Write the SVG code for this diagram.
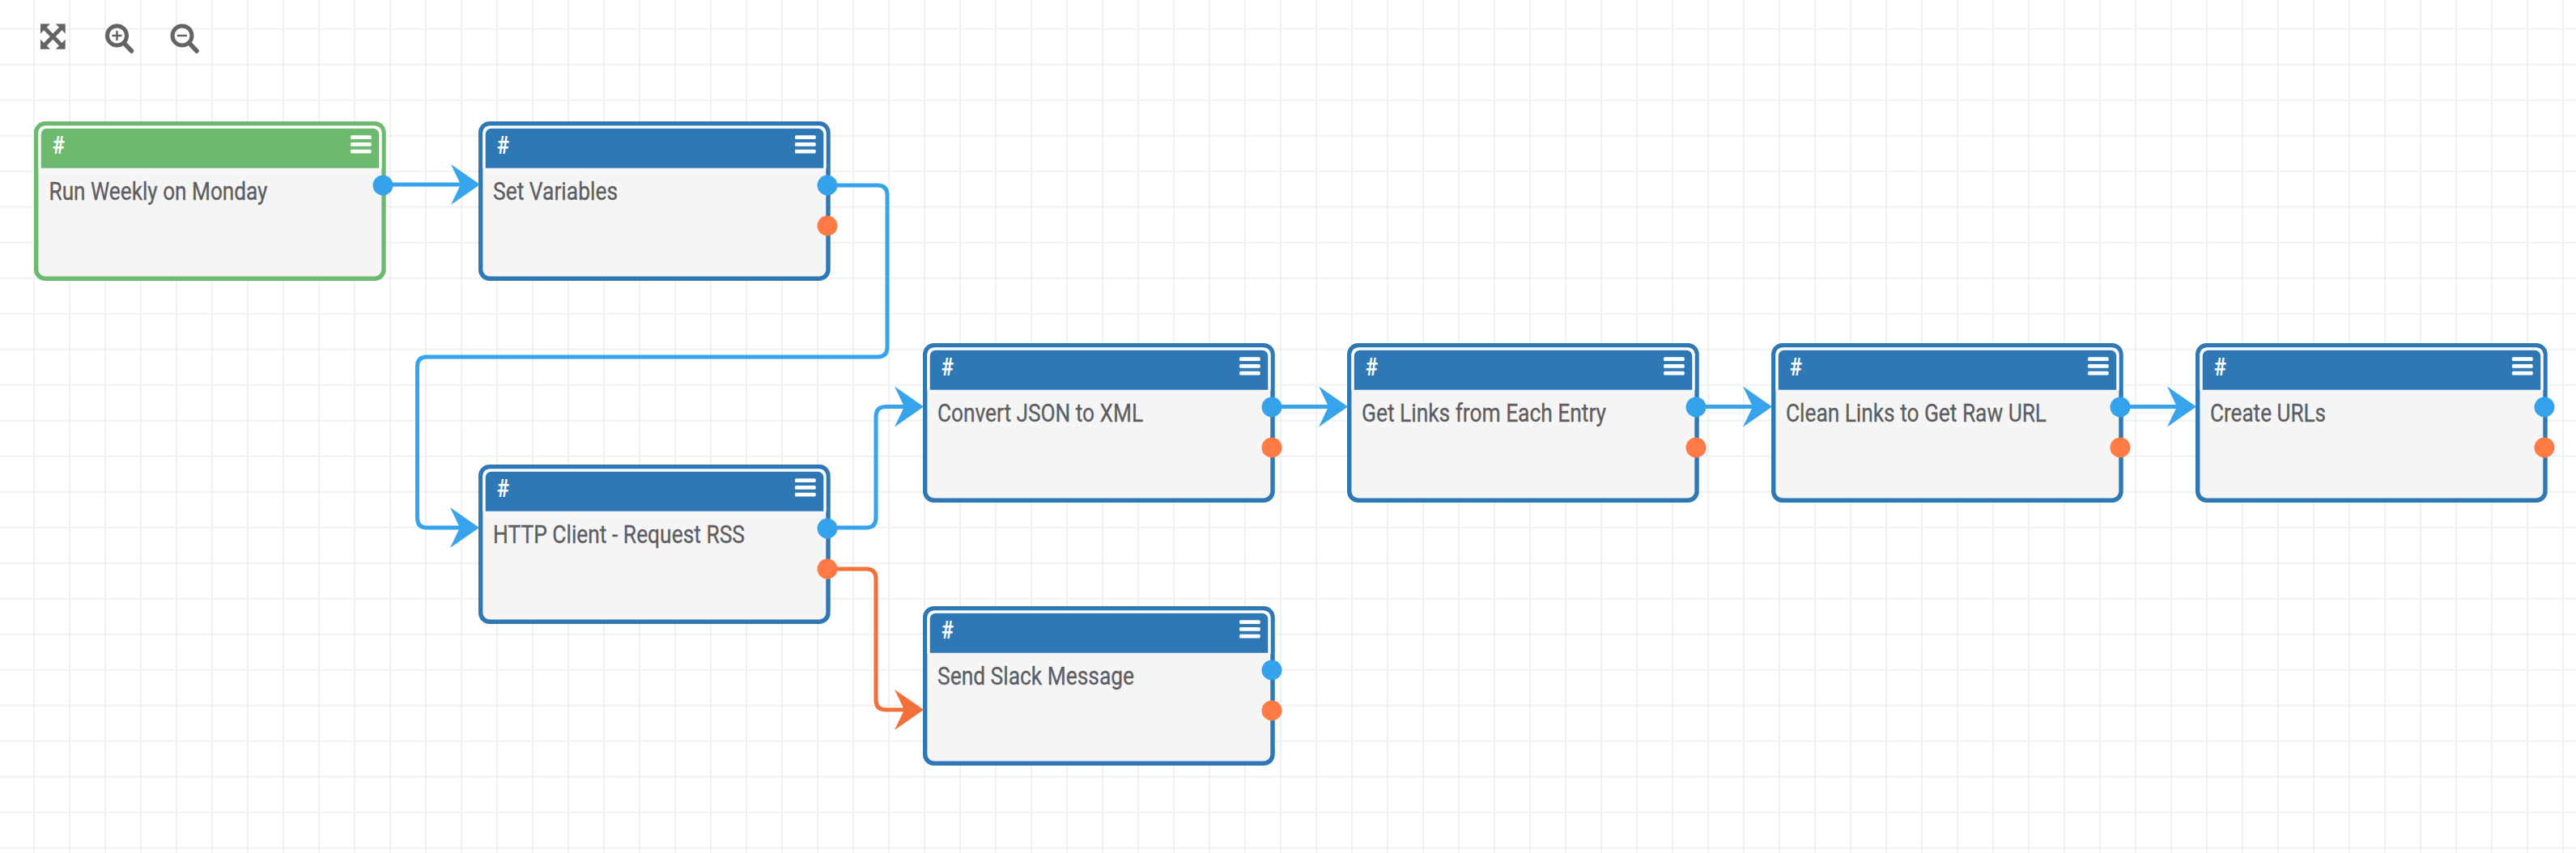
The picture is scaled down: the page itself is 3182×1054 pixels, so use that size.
<svg xmlns="http://www.w3.org/2000/svg" width="3182" height="1054" viewBox="0 0 3182 1054">
<style>
.frame{fill:#f5f5f5;stroke:currentColor;stroke-width:5.4}
.gap{fill:#fff}
.head{fill:currentColor}
.t{font-family:Roboto,"Liberation Sans",sans-serif;font-size:32px;fill:#5e5e62;stroke:#5e5e62;stroke-width:.35}
.h{font-family:Roboto,"Liberation Sans",sans-serif;font-size:32px;font-weight:700;fill:#fff}
.g{color:#6bba70}
.b{color:#2e78b5}
.bar{fill:#fff}
.pb{fill:#35a3ec}.po{fill:#ff7a45}
.cb{fill:none;stroke:#36a3ec;stroke-width:5}
.co{fill:none;stroke:#f4703a;stroke-width:5}
.ab{fill:#36a3ec}.ao{fill:#f4703a}
.ic{fill:#646468}.is{fill:none;stroke:#646468}
</style>
<defs>
<pattern id="grid" width="44" height="44" patternUnits="userSpaceOnUse" x="41" y="34.7">
<path d="M0 0H44M0 0V44" fill="none" stroke="#f1f1f1" stroke-width="4"/>
</pattern>
<g id="shell">
<rect class="frame" x="2.7" y="2.7" width="429.300" height="191.500" rx="11"/>
<path class="gap" d="M5.400 58.500V14A8.600 8.600 0 0 1 14 5.400H421A8.600 8.600 0 0 1 429.600 14V58.500Z"/>
<path class="head" d="M8.700 57.700V16A7.300 7.300 0 0 1 16 8.700H419A7.300 7.300 0 0 1 426.300 16V57.700Z"/>
<rect class="bar" x="391" y="17.300" width="25.700" height="4.800" rx="1.500"/>
<rect class="bar" x="391" y="26" width="25.700" height="4.800" rx="1.500"/>
<rect class="bar" x="391" y="34.700" width="25.700" height="4.800" rx="1.500"/>
<text class="h" x="23" y="39.500" textLength="15" lengthAdjust="spacingAndGlyphs">#</text>
</g>
<path id="ah" d="M0 0L-36 25L-24 0L-36 -25Z"/>
</defs>
<rect id="background" width="3182" height="1054" fill="#fff"/>
<rect id="gridlines" width="3182" height="1054" fill="url(#grid)"/>
<g id="toolbar">
<g id="tool-fit">
<path class="ic" d="M50 29.500H62L50 41.500ZM80.700 29.500V41.500L68.700 29.500ZM50 60.700V48.700L62 60.700ZM80.700 60.700H68.700L80.700 48.700Z"/>
<path class="is" d="M54 33.500L76.700 56.700M76.700 33.500L54 56.700" stroke-width="5"/>
</g>
<g id="tool-in">
<circle class="is" cx="144.500" cy="44" r="12" stroke-width="5"/>
<path class="is" d="M154 54L162.500 63" stroke-width="5.500" stroke-linecap="round"/>
<path class="is" d="M144.500 38V50M138.500 44H150.500" stroke-width="2.500"/>
</g>
<g id="tool-out">
<circle class="is" cx="225" cy="44" r="12" stroke-width="5"/>
<path class="is" d="M234.500 54L243 63" stroke-width="5.500" stroke-linecap="round"/>
<path class="is" d="M219 44H231" stroke-width="2.500"/>
</g>
</g>
<g id="node-run" class="g" transform="translate(42 150)">
<use href="#shell"/>
<text class="t" x="18.500" y="96.700" textLength="270" lengthAdjust="spacingAndGlyphs">Run Weekly on Monday</text>
<circle class="pb" cx="431" cy="79" r="12.500"/>
</g>
<g id="node-vars" class="b" transform="translate(591 150)">
<use href="#shell"/>
<text class="t" x="18" y="96.700" textLength="154" lengthAdjust="spacingAndGlyphs">Set Variables</text>
<circle class="pb" cx="431" cy="79" r="12.500"/><circle class="po" cx="431" cy="129" r="12.500"/>
</g>
<g id="node-http" class="b" transform="translate(591 574)">
<use href="#shell"/>
<text class="t" x="18" y="96.700" textLength="311" lengthAdjust="spacingAndGlyphs">HTTP Client - Request RSS</text>
<circle class="pb" cx="431" cy="79" r="12.500"/><circle class="po" cx="431" cy="129" r="12.500"/>
</g>
<g id="node-json" class="b" transform="translate(1140 424)">
<use href="#shell"/>
<text class="t" x="18" y="96.700" textLength="254" lengthAdjust="spacingAndGlyphs">Convert JSON to XML</text>
<circle class="pb" cx="431" cy="79" r="12.500"/><circle class="po" cx="431" cy="129" r="12.500"/>
</g>
<g id="node-links" class="b" transform="translate(1664 424)">
<use href="#shell"/>
<text class="t" x="18" y="96.700" textLength="302" lengthAdjust="spacingAndGlyphs">Get Links from Each Entry</text>
<circle class="pb" cx="431" cy="79" r="12.500"/><circle class="po" cx="431" cy="129" r="12.500"/>
</g>
<g id="node-clean" class="b" transform="translate(2188 424)">
<use href="#shell"/>
<text class="t" x="18" y="96.700" textLength="322" lengthAdjust="spacingAndGlyphs">Clean Links to Get Raw URL</text>
<circle class="pb" cx="431" cy="79" r="12.500"/><circle class="po" cx="431" cy="129" r="12.500"/>
</g>
<g id="node-urls" class="b" transform="translate(2712 424)">
<use href="#shell"/>
<text class="t" x="18" y="96.700" textLength="143" lengthAdjust="spacingAndGlyphs">Create URLs</text>
<circle class="pb" cx="431" cy="79" r="12.500"/><circle class="po" cx="431" cy="129" r="12.500"/>
</g>
<g id="node-slack" class="b" transform="translate(1140 749)">
<use href="#shell"/>
<text class="t" x="18" y="96.700" textLength="243" lengthAdjust="spacingAndGlyphs">Send Slack Message</text>
<circle class="pb" cx="431" cy="79" r="12.500"/><circle class="po" cx="431" cy="129" r="12.500"/>
</g>
<g id="connectors">
<path class="cb" d="M484 228H573"/><use href="#ah" class="ab" x="593" y="228"/>
<path class="cb" d="M1033 229H1084Q1096 229 1096 241V429Q1096 441 1084 441H527Q515.500 441 515.500 453V640Q515.500 652 527 652H571"/><use href="#ah" class="ab" x="592" y="652"/>
<path class="cb" d="M1033 652H1070Q1082 652 1082 640V515Q1082 502.500 1094 502.500H1121"/><use href="#ah" class="ab" x="1141" y="502.500"/>
<path class="co" d="M1033 703H1070Q1082 703 1082 715V865Q1082 877 1094 877H1121"/><use href="#ah" class="ao" x="1141" y="877"/>
<path class="cb" d="M1582 502.500H1645"/><use href="#ah" class="ab" x="1665" y="502.500"/>
<path class="cb" d="M2106 502.500H2169"/><use href="#ah" class="ab" x="2189" y="502.500"/>
<path class="cb" d="M2630 502.500H2693"/><use href="#ah" class="ab" x="2713" y="502.500"/>
</g>
</svg>
